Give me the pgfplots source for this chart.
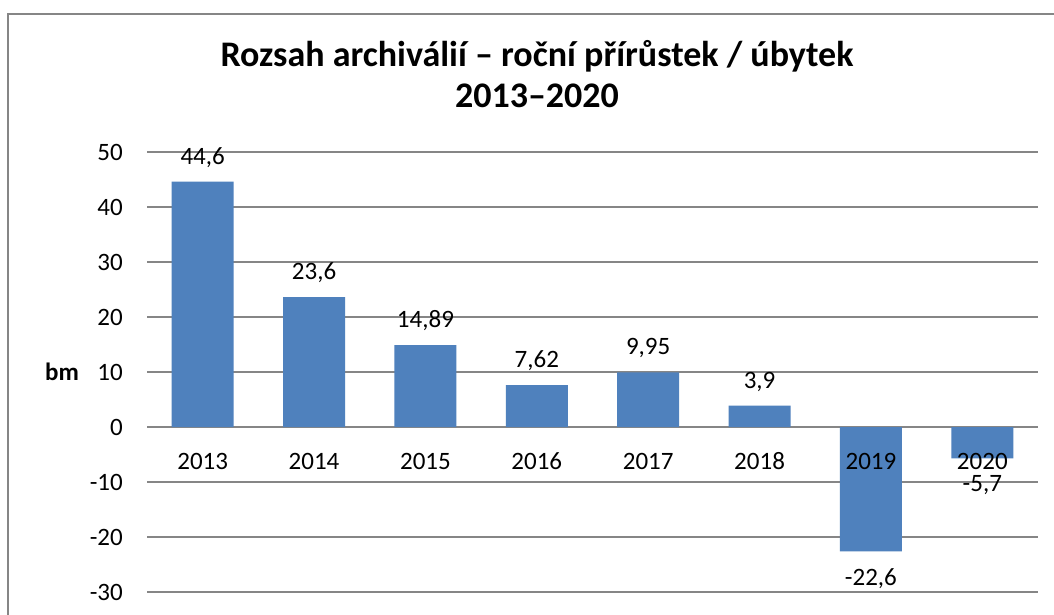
\documentclass[border=0pt]{standalone}
\usepackage{fontspec}
\setmainfont{Carlito}
\usepackage{pgfplots}
\pgfplotsset{compat=1.18}
\usepackage{pgfplotstable}
\definecolor{barblue}{HTML}{4F81BD}
\definecolor{gridgray}{HTML}{868686}
\pgfplotstableread{
x y label
0 44.6 44,6
1 23.6 23,6
2 14.89 14,89
3 7.62 7,62
4 9.95 9,95
5 3.9 3,9
}\postable
\pgfplotstableread{
x y label
6 -22.6 -22,6
7 -5.7 -5,7
}\negtable
\pgfplotsset{common/.style={
  at={(147bp,23bp)}, anchor=south west,
  scale only axis, width=891bp, height=440bp,
  ymin=-30, ymax=50,
  xmin=-0.5, xmax=7.5,
  axis line style={draw=none},
  major tick length=0pt,
  /pgf/number format/assume math mode=true,
  ticklabel style={font=\fontsize{25bp}{30bp}\selectfont, text=black},
  clip=false,
}}
\begin{document}
\begin{tikzpicture}
\clip (0bp,0bp) rectangle (1054bp,615bp);
\path[use as bounding box] (0bp,0bp) rectangle (1054bp,615bp);
\fill[white] (0bp,0bp) rectangle (1054bp,615bp);
\draw[gridgray, line width=2bp] (8bp,-30bp) rectangle (1090bp,601bp);
\node[font=\bfseries\fontsize{36bp}{42bp}\selectfont, anchor=base] at (537bp,548bp) {Rozsah archiválií – roční přírůstek / úbytek};
\node[font=\bfseries\fontsize{36bp}{42bp}\selectfont, anchor=base] at (537bp,507bp) {2013–2020};
\node[font=\bfseries\fontsize{25bp}{30bp}\selectfont, anchor=base] at (62bp,234bp) {bm};
\begin{axis}[
  common,
  ytick={-30,-20,...,50},
  xtick=\empty,
  ymajorgrids, major grid style={gridgray, line width=1.5bp},
  yticklabel style={anchor=east, inner sep=0pt, xshift=-24bp},
  ybar, bar width=62bp, bar shift=0pt,
  point meta=explicit symbolic,
  nodes near coords,
  every node near coord/.append style={font=\fontsize{25bp}{30bp}\selectfont, text=black, inner xsep=0pt},
]
\addplot[fill=barblue, draw=none, every node near coord/.append style={anchor=south, inner ysep=14bp}] table[x=x, y=y, meta=label] {\postable};
\addplot[fill=barblue, draw=none, every node near coord/.append style={anchor=north, inner ysep=17bp}] table[x=x, y=y, meta=label] {\negtable};
\end{axis}
\begin{axis}[
  common,
  ytick=\empty,
  xtick={0,...,7}, xticklabels={2013,2014,2015,2016,2017,2018,2019,2020},
  xticklabel style={anchor=center, inner sep=0pt, yshift=131bp},
]
\end{axis}
\end{tikzpicture}
\end{document}
